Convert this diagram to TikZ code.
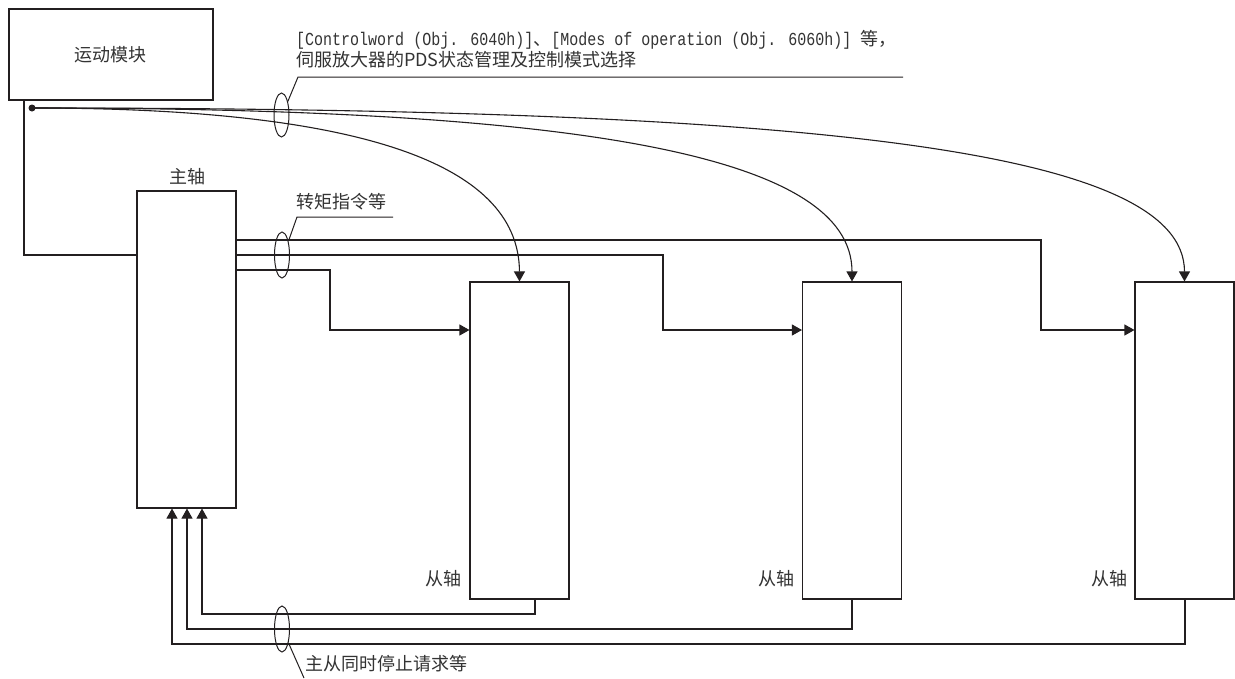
\documentclass[tikz,border=0pt]{standalone}
\usepackage{fontspec}
\setmainfont{Noto Sans CJK SC}
\newfontfamily\latmono[FakeStretch=0.82]{Liberation Mono}
\usetikzlibrary{arrows.meta,shapes.geometric}
\definecolor{lc}{HTML}{231F20}
\definecolor{tc}{HTML}{333333}
\begin{document}
\begin{tikzpicture}[x=1pt,y=-1pt,
  box/.style={draw=lc, line width=1.1pt, inner sep=0pt, minimum width=99pt, minimum height=317pt},
  lbl/.style={text=tc, font=\fontsize{18}{21}\selectfont, inner sep=0pt},
  wire/.style={draw=lc, line width=1.1pt},
  arr/.style={wire, -{Triangle[length=10pt,width=11pt]}},
  grp/.style={ellipse, draw=lc, line width=1pt, minimum width=15pt, minimum height=45pt, inner sep=0pt}]
\useasboundingbox (0,0) rectangle (1235,678);
\fill[white] (0,0) rectangle (1235,678);

% boxes
\node[draw=lc, line width=1.1pt, minimum width=204pt, minimum height=91pt, inner sep=0pt] (mm) at (111,54.5) {};
\node[lbl] (mmt) at (110,55) {运动模块};
\node[box] (ma) at (186.5,349.5) {};
\node[box] (s1) at (519.5,440.5) {};
\node[box] (s2) at (852,440.5) {};
\node[box] (s3) at (1184.5,440.5) {};

\node[lbl] (mat) at (187,177) {主轴};
\node[lbl, anchor=east] (s1t) at (462,579) {从轴};
\node[lbl, anchor=east] (s2t) at (795,579) {从轴};
\node[lbl, anchor=east] (s3t) at (1128,579) {从轴};

% motion module to master
\coordinate (mmd) at (24,100);
\coordinate (y255) at (0,255);
\draw[wire] (mmd) |- (ma.west |- y255);

% dot and curves
\node[circle, fill=lc, inner sep=0pt, minimum size=7pt] (dot) at (32,108) {};
\draw[arr] (dot.center) .. controls (350,108) and (519,160) .. (s1.north);
\draw[arr] (dot.center) .. controls (580,108) and (852,155) .. (s2.north);
\draw[arr] (dot.center) .. controls (820,108) and (1184.5,150) .. (s3.north);

% command lines master -> slaves
\coordinate (y240) at (0,240);
\coordinate (y270) at (0,270);
\coordinate (y330) at (0,330);
\coordinate (b1) at (330,330);
\coordinate (b2) at (663,330);
\coordinate (b3) at (1041,330);
\draw[arr] (ma.east |- y270) -| (b1) -- (s1.west |- y330);
\draw[arr] (ma.east |- y255) -| (b2) -- (s2.west |- y330);
\draw[arr] (ma.east |- y240) -| (b3) -- (s3.west |- y330);

% feedback lines slaves -> master
\coordinate (f1) at (535,614);
\coordinate (f2) at (852,629);
\coordinate (f3) at (1185,644);
\coordinate (x202) at (202,0);
\coordinate (x187) at (187,0);
\coordinate (x172) at (172,0);
\draw[arr] (s1.south -| f1) |- (x202 |- f1) -- (ma.south -| x202);
\draw[arr] (s2.south -| f2) |- (x187 |- f2) -- (ma.south -| x187);
\draw[arr] (s3.south -| f3) |- (x172 |- f3) -- (ma.south -| x172);

% group ellipses and labels
\node[grp, minimum height=44pt] (g1) at (281.5,115) {};
\node[grp, minimum height=46pt] (g2) at (282,255) {};
\node[grp, minimum height=46pt] (g3) at (282,629) {};

\coordinate (l1) at (298,77);
\coordinate (l1e) at (903,77);
\draw[wire, line width=1pt] (g1.65) -- (l1) -- (l1e);
\node[lbl, anchor=north west, align=left] (t1) at (296,30)
  {{\latmono\fontsize{18.3}{21}\selectfont [Controlword (Obj. 6040h)]}、{\latmono\fontsize{18.3}{21}\selectfont [Modes of operation (Obj. 6060h)] }等，\\伺服放大器的PDS状态管理及控制模式选择};

\coordinate (l2) at (297,217);
\coordinate (l2e) at (393,217);
\draw[wire, line width=1pt] (g2.65) -- (l2) -- (l2e);
\node[lbl, anchor=west] (t2) at (296,202) {转矩指令等};

\coordinate (l3) at (304,678);
\draw[wire, line width=1pt] (g3.-65) -- (l3);
\node[lbl, anchor=west] (t3) at (305,664) {主从同时停止请求等};
\end{tikzpicture}
\end{document}
